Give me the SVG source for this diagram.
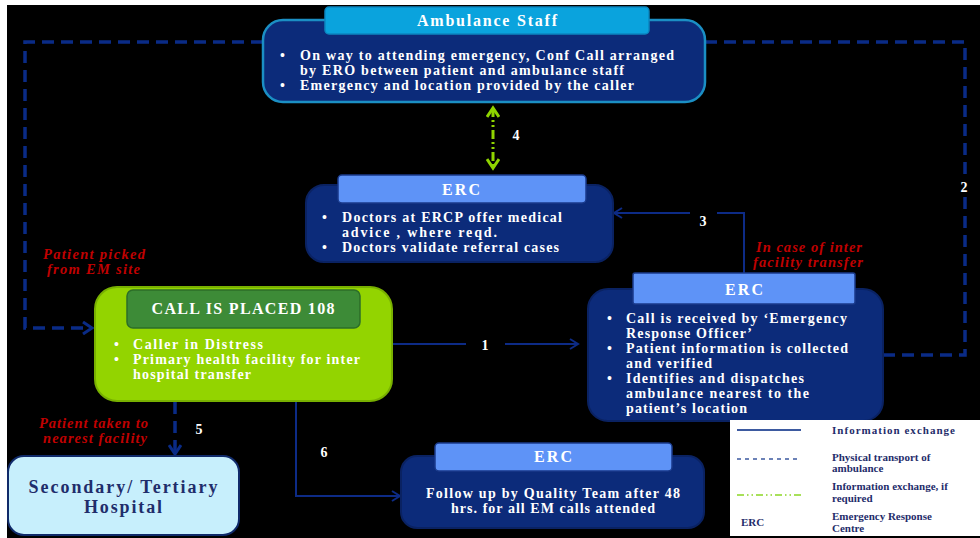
<svg xmlns="http://www.w3.org/2000/svg" width="980" height="538" viewBox="0 0 980 538">
<defs>
<style>
.body{fill:#0c2b7a;stroke:#0a2262;stroke-width:2}
.amb{fill:#0c2b7a;stroke:#1b8fc4;stroke-width:2.5}
.hdr{fill:#5e93f7;stroke:#1a3a8a;stroke-width:1.5}
.t{font-family:"Liberation Serif","Times New Roman",serif;font-weight:bold;fill:#ffffff;font-size:14px}
.ttl{font-family:"Liberation Serif","Times New Roman",serif;font-weight:bold;fill:#ffffff;font-size:16px;text-anchor:middle}
.red{font-family:"Liberation Serif","Times New Roman",serif;font-weight:bold;font-style:italic;fill:#c00000;font-size:14.5px}
.num{font-family:"Liberation Serif","Times New Roman",serif;font-weight:bold;fill:#ffffff;font-size:14px;text-anchor:middle}
.lg{font-family:"Liberation Serif","Times New Roman",serif;font-weight:bold;fill:#1f2d6b;font-size:11px}
.solid{fill:none;stroke:#0d2b86;stroke-width:2}
.dash{fill:none;stroke:#0a2b86;stroke-width:3.5;stroke-dasharray:12 7}
</style>
<marker id="ah" markerWidth="12" markerHeight="12" refX="10" refY="6" orient="auto" markerUnits="userSpaceOnUse">
<path d="M2,1 L10,6 L2,11" fill="none" stroke="#0d2b86" stroke-width="2"/>
</marker>
<marker id="ahd" markerWidth="14" markerHeight="14" refX="11" refY="7" orient="auto" markerUnits="userSpaceOnUse">
<path d="M2,1 L11,7 L2,13" fill="none" stroke="#0a2b86" stroke-width="3"/>
</marker>
<marker id="ahg" markerWidth="14" markerHeight="14" refX="11" refY="7" orient="auto-start-reverse" markerUnits="userSpaceOnUse">
<path d="M2,1 L11,7 L2,13" fill="none" stroke="#8fd400" stroke-width="3"/>
</marker>
</defs>

<rect x="0" y="0" width="980" height="538" fill="#ffffff"/>
<rect x="7" y="5" width="973" height="533" fill="#000000"/>

<g id="connectors">
<path class="dash" d="M263 42 H25 V328 H92" marker-end="url(#ahd)"/>
<path class="dash" d="M705 42 H965 V177 M965 197 V355 H883"/>
<path class="solid" d="M392 344 H466 M505 344 H578" marker-end="url(#ah)"/>
<path class="solid" d="M744 273 V213 H717 M690 213 H614" marker-end="url(#ah)"/>
<path d="M493 108 V168" fill="none" stroke="#8fd400" stroke-width="3" stroke-dasharray="9 3 2 3 2 3" marker-start="url(#ahg)" marker-end="url(#ahg)"/>
<path class="dash" d="M175 402 V454" marker-end="url(#ahd)"/>
<path class="solid" d="M296 402 V496 H400" marker-end="url(#ah)"/>
<text class="num" x="485" y="350">1</text>
<text class="num" x="964" y="192">2</text>
<text class="num" x="703" y="226">3</text>
<text class="num" x="516" y="140">4</text>
<text class="num" x="199" y="434">5</text>
<text class="num" x="324" y="457">6</text>
</g>

<g id="ambulance-staff">
<rect class="amb" x="263" y="20" width="442" height="82" rx="20"/>
<rect x="325" y="7" width="324" height="27" rx="4" fill="#0aa3dd" stroke="#0b87c0" stroke-width="1.5"/>
<text class="ttl" x="487" y="26" textLength="140" lengthAdjust="spacing">Ambulance Staff</text>
<text class="t" x="280" y="60">•</text>
<text class="t" x="300" y="60" textLength="374" lengthAdjust="spacing">On way to attending emergency, Conf Call arranged</text>
<text class="t" x="300" y="75" textLength="324" lengthAdjust="spacing">by ERO between patient and ambulance staff</text>
<text class="t" x="280" y="90">•</text>
<text class="t" x="300" y="90" textLength="334" lengthAdjust="spacing">Emergency and location provided by the caller</text>
</g>

<g id="erc-doctors">
<rect class="body" x="306" y="185" width="307" height="77" rx="18"/>
<rect class="hdr" x="338" y="175" width="248" height="28" rx="4"/>
<text class="ttl" x="461" y="195" textLength="38" lengthAdjust="spacing">ERC</text>
<text class="t" x="322" y="222">•</text>
<text class="t" x="342" y="222" textLength="220" lengthAdjust="spacing">Doctors at ERCP offer medical</text>
<text class="t" x="342" y="237" textLength="155" lengthAdjust="spacing">advice , where reqd.</text>
<text class="t" x="322" y="252">•</text>
<text class="t" x="342" y="252" textLength="217" lengthAdjust="spacing">Doctors validate referral cases</text>
</g>

<g id="call-placed">
<rect x="95" y="287" width="297" height="114" rx="22" fill="#93d400" stroke="#78b000" stroke-width="2"/>
<rect x="127" y="290" width="233" height="38" rx="6" fill="#3d8b37" stroke="#2c6e28" stroke-width="1.5"/>
<text class="ttl" x="243" y="314" textLength="183" lengthAdjust="spacing">CALL IS PLACED 108</text>
<text class="t" x="114" y="349">•</text>
<text class="t" x="133" y="349" textLength="130" lengthAdjust="spacing">Caller  in Distress</text>
<text class="t" x="114" y="364">•</text>
<text class="t" x="133" y="364" textLength="227" lengthAdjust="spacing">Primary health facility for inter</text>
<text class="t" x="133" y="379" textLength="118" lengthAdjust="spacing">hospital transfer</text>
</g>

<g id="erc-call">
<rect class="body" x="588" y="289" width="295" height="132" rx="20"/>
<rect class="hdr" x="633" y="273" width="222" height="31" rx="2"/>
<text class="ttl" x="744" y="295" textLength="38" lengthAdjust="spacing">ERC</text>
<text class="t" x="607" y="323">•</text>
<text class="t" x="626" y="323" textLength="221" lengthAdjust="spacing">Call is received by ‘Emergency</text>
<text class="t" x="626" y="338" textLength="126" lengthAdjust="spacing">Response Officer’</text>
<text class="t" x="607" y="353">•</text>
<text class="t" x="626" y="353" textLength="222" lengthAdjust="spacing">Patient information is collected</text>
<text class="t" x="626" y="368" textLength="86" lengthAdjust="spacing">and verified</text>
<text class="t" x="607" y="383">•</text>
<text class="t" x="626" y="383" textLength="178" lengthAdjust="spacing">Identifies and dispatches</text>
<text class="t" x="626" y="398" textLength="183" lengthAdjust="spacing">ambulance nearest  to the</text>
<text class="t" x="626" y="413" textLength="121" lengthAdjust="spacing">patient’s location</text>
</g>

<g id="hospital">
<rect x="8" y="456" width="231" height="79" rx="16" fill="#c7effc" stroke="#102a6a" stroke-width="2"/>
<text x="123" y="493" text-anchor="middle" font-family="'Liberation Serif', 'Times New Roman', serif" font-weight="bold" font-size="18" fill="#1f2d6b" textLength="189" lengthAdjust="spacing">Secondary/ Tertiary</text>
<text x="123" y="513" text-anchor="middle" font-family="'Liberation Serif', 'Times New Roman', serif" font-weight="bold" font-size="18" fill="#1f2d6b" textLength="78" lengthAdjust="spacing">Hospital</text>
</g>

<g id="erc-followup">
<rect class="body" x="401" y="456" width="303" height="72" rx="16"/>
<rect class="hdr" x="435" y="443" width="237" height="28" rx="4"/>
<text class="ttl" x="553" y="462" textLength="38" lengthAdjust="spacing">ERC</text>
<text class="t" x="553" y="498" text-anchor="middle" textLength="254" lengthAdjust="spacing">Follow up by Quality Team after 48</text>
<text class="t" x="553" y="513" text-anchor="middle" textLength="204" lengthAdjust="spacing">hrs. for all EM calls attended</text>
</g>

<g id="labels">
<text class="red" x="756" y="252" textLength="106" lengthAdjust="spacing">In case of inter</text>
<text class="red" x="753" y="267" textLength="110" lengthAdjust="spacing">facility transfer</text>
<text class="red" x="43" y="259" textLength="102" lengthAdjust="spacing">Patient picked</text>
<text class="red" x="47" y="274" textLength="93" lengthAdjust="spacing">from EM site</text>
<text class="red" x="39" y="428" textLength="109" lengthAdjust="spacing">Patient taken to</text>
<text class="red" x="43" y="443" textLength="104" lengthAdjust="spacing">nearest facility</text>
</g>

<g id="legend">
<rect x="730" y="420" width="250" height="116" fill="#ffffff"/>
<line x1="737" y1="430" x2="801" y2="430" stroke="#3d5aa0" stroke-width="2"/>
<line x1="737" y1="459" x2="801" y2="459" stroke="#3d5aa0" stroke-width="1.5" stroke-dasharray="4 4"/>
<line x1="737" y1="495" x2="801" y2="495" stroke="#a8e05a" stroke-width="2" stroke-dasharray="7 3 1.5 3 1.5 3"/>
<text class="lg" x="741" y="526">ERC</text>
<text class="lg" x="832" y="434" textLength="123" lengthAdjust="spacing">Information  exchange</text>
<text class="lg" x="832" y="461">Physical transport  of</text>
<text class="lg" x="832" y="472">ambulance</text>
<text class="lg" x="832" y="490">Information  exchange, if</text>
<text class="lg" x="832" y="502">required</text>
<text class="lg" x="832" y="520">Emergency Response</text>
<text class="lg" x="832" y="532">Centre</text>
</g>
</svg>
